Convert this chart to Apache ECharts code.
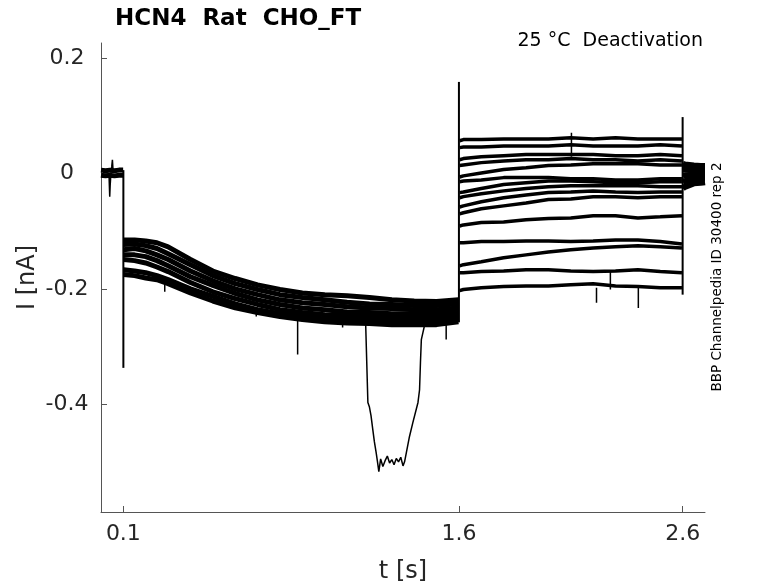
<!DOCTYPE html>
<html><head><meta charset="utf-8">
<script src="https://cdn.jsdelivr.net/npm/echarts@6.0.0/dist/echarts.min.js"></script>
<style>html,body{margin:0;padding:0;background:#fff}#c{width:778px;height:583px}</style>
</head><body><div id="c"></div>
<script>
// ---- tick labels ----
const xTicks = [0.1, 1.6, 2.6];
const yTicks = [-0.4, -0.2, 0, 0.2];

// ---- holding before step (0 - 0.1 s) ----
const tPre = [0, 0.02, 0.04, 0.06, 0.08, 0.099];
const preA = [0.006, 0.005, 0.006, 0.005, 0.006, 0.006];
const preB = [-0.003, -0.004, -0.003, -0.004, -0.003, -0.003];
const tDip = [0.03, 0.036, 0.039, 0.041, 0.044, 0.048, 0.051, 0.054, 0.06];
const vDip = [0.002, -0.004, -0.040, -0.020, -0.002, 0.012, 0.024, 0.004, 0.001];

// ---- activation step (0.1 - 1.6 s) ----
const tAct = [0.101, 0.15, 0.2, 0.25, 0.3, 0.4, 0.5, 0.6, 0.7, 0.8, 0.9, 1.0, 1.1, 1.2, 1.3, 1.4, 1.5, 1.598];
const act1 = [-0.115, -0.115, -0.117, -0.120, -0.127, -0.149, -0.169, -0.182, -0.193, -0.201, -0.207, -0.210, -0.212, -0.215, -0.219, -0.221, -0.222, -0.219];
const act2 = [-0.123, -0.122, -0.125, -0.130, -0.139, -0.158, -0.177, -0.191, -0.201, -0.210, -0.215, -0.219, -0.223, -0.226, -0.227, -0.229, -0.229, -0.226];
const act3 = [-0.132, -0.130, -0.134, -0.141, -0.149, -0.169, -0.186, -0.200, -0.210, -0.219, -0.224, -0.227, -0.231, -0.233, -0.234, -0.236, -0.236, -0.233];
const act4 = [-0.141, -0.141, -0.144, -0.151, -0.160, -0.179, -0.194, -0.208, -0.219, -0.227, -0.233, -0.236, -0.240, -0.241, -0.243, -0.243, -0.243, -0.240];
const act5 = [-0.149, -0.151, -0.155, -0.162, -0.170, -0.189, -0.205, -0.217, -0.227, -0.236, -0.241, -0.245, -0.246, -0.248, -0.250, -0.250, -0.250, -0.246];
const act6 = [-0.167, -0.169, -0.172, -0.177, -0.184, -0.200, -0.213, -0.226, -0.236, -0.243, -0.248, -0.252, -0.253, -0.255, -0.257, -0.257, -0.257, -0.253];
const act7 = [-0.175, -0.177, -0.181, -0.184, -0.191, -0.207, -0.221, -0.233, -0.241, -0.248, -0.253, -0.257, -0.259, -0.260, -0.262, -0.262, -0.262, -0.257];

// ---- one sweep with a large excursion ----
const tExc = [1.1, 1.15, 1.183, 1.193, 1.2, 1.207, 1.215, 1.222, 1.23, 1.236, 1.242, 1.25, 1.26, 1.27, 1.28, 1.29, 1.3, 1.31, 1.32, 1.33, 1.34, 1.35, 1.357, 1.365, 1.379, 1.394, 1.417, 1.424, 1.428, 1.432, 1.439, 1.45, 1.5];
const vExc = [-0.253, -0.255, -0.259, -0.397, -0.405, -0.420, -0.444, -0.465, -0.484, -0.500, -0.517, -0.495, -0.508, -0.498, -0.490, -0.502, -0.496, -0.505, -0.494, -0.500, -0.492, -0.507, -0.500, -0.484, -0.456, -0.432, -0.397, -0.375, -0.328, -0.288, -0.276, -0.257, -0.257];

// ---- deactivation tails (1.6 - 2.6 s) ----
const tTail = [1.603, 1.62, 1.7, 1.8, 1.9, 2.0, 2.1, 2.2, 2.3, 2.4, 2.5, 2.597];
const tail1  = [0.057, 0.059, 0.059, 0.060, 0.060, 0.060, 0.062, 0.060, 0.062, 0.060, 0.060, 0.060];
const tail2  = [0.045, 0.046, 0.046, 0.048, 0.048, 0.048, 0.050, 0.048, 0.048, 0.048, 0.050, 0.048];
const tail3  = [0.024, 0.026, 0.029, 0.031, 0.033, 0.033, 0.033, 0.033, 0.031, 0.031, 0.033, 0.031];
const tail4  = [0.014, 0.015, 0.019, 0.022, 0.024, 0.024, 0.026, 0.024, 0.024, 0.022, 0.024, 0.022];
const tail5  = [-0.006, -0.004, 0.001, 0.007, 0.010, 0.014, 0.015, 0.017, 0.017, 0.017, 0.015, 0.015];
const tail6  = [-0.014, -0.013, -0.011, -0.007, -0.007, -0.007, -0.009, -0.009, -0.011, -0.011, -0.009, -0.009];
const tail7  = [-0.033, -0.032, -0.026, -0.019, -0.016, -0.013, -0.013, -0.014, -0.016, -0.016, -0.014, -0.014];
const tail8  = [-0.042, -0.040, -0.035, -0.030, -0.026, -0.023, -0.021, -0.021, -0.021, -0.021, -0.023, -0.023];
const tail9  = [-0.058, -0.056, -0.049, -0.042, -0.037, -0.033, -0.032, -0.030, -0.032, -0.033, -0.032, -0.032];
const tail10 = [-0.070, -0.068, -0.061, -0.056, -0.051, -0.045, -0.044, -0.040, -0.040, -0.042, -0.040, -0.040];
const tail11 = [-0.091, -0.089, -0.085, -0.084, -0.080, -0.078, -0.077, -0.073, -0.073, -0.077, -0.075, -0.073];
const tail12 = [-0.120, -0.120, -0.118, -0.118, -0.117, -0.117, -0.118, -0.117, -0.115, -0.115, -0.118, -0.122];
const tail13 = [-0.160, -0.158, -0.153, -0.146, -0.141, -0.136, -0.132, -0.129, -0.127, -0.125, -0.127, -0.129];
const tail14 = [-0.172, -0.172, -0.170, -0.169, -0.167, -0.167, -0.169, -0.170, -0.169, -0.167, -0.170, -0.172];
const tail15 = [-0.203, -0.201, -0.198, -0.196, -0.195, -0.195, -0.193, -0.191, -0.195, -0.196, -0.198, -0.198];

// ---- holding after step (2.6 - 2.7 s) ----
const tPost = [2.601, 2.61, 2.63, 2.65, 2.68, 2.7];
const post1 = [0.017, 0.016, 0.015, 0.014, 0.013, 0.013];
const post2 = [0.007, 0.007, 0.006, 0.006, 0.005, 0.005];
const post3 = [-0.004, -0.003, -0.003, -0.002, -0.002, -0.002];
const post4 = [-0.014, -0.013, -0.011, -0.010, -0.009, -0.009];
const post5 = [-0.026, -0.023, -0.020, -0.017, -0.016, -0.015];

// ---- voltage steps / transients (time, from, to) ----
const stepT    = [0.1, 1.6, 2.6];
const stepFrom = [0.006, -0.258, -0.210];
const stepTo   = [-0.337, 0.159, 0.098];
const spikeT    = [0.285, 0.694, 0.879, 1.08, 1.543, 2.103, 2.215, 2.277, 2.402];
const spikeFrom = [-0.190, -0.240, -0.250, -0.255, -0.258, 0.029, -0.198, -0.170, -0.196];
const spikeTo   = [-0.205, -0.248, -0.314, -0.267, -0.288, 0.071, -0.224, -0.201, -0.233];

const acts = [act1, act2, act3, act4, act5, act6, act7];
const tails = [tail1, tail2, tail3, tail4, tail5, tail6, tail7, tail8, tail9, tail10, tail11, tail12, tail13, tail14, tail15];
const posts = [post1, post2, post3, post4, post5];

function line(ts, vs, w) {
  return {
    type: 'line', data: ts.map((t, i) => [t, vs[i]]),
    symbol: 'none', showSymbol: false, silent: true, animation: false,
    lineStyle: { color: '#000', width: w }, itemStyle: { color: '#000' }
  };
}
const series = [];
series.push(line(tPre, preA, 5), line(tPre, preB, 5), line(tDip, vDip, 1.5));
acts.forEach(a => series.push(line(tAct, a, 5)));
series.push(line(tExc, vExc, 1.5));
tails.forEach(a => series.push(line(tTail, a, 3.5)));
posts.forEach(a => series.push(line(tPost, a, 6)));
stepT.forEach((t, i) => series.push(line([t, t], [stepFrom[i], stepTo[i]], 2)));
spikeT.forEach((t, i) => series.push(line([t, t], [spikeFrom[i], spikeTo[i]], 1.5)));

const FONT = 'DejaVu Sans';
const chart = echarts.init(document.getElementById('c'), null, { renderer: 'canvas' });
chart.setOption({
  animation: false,
  backgroundColor: '#fff',
  title: {
    text: 'HCN4  Rat  CHO_FT', left: 115, top: 8, padding: 0,
    textStyle: { fontFamily: FONT, fontWeight: 'bold', fontSize: 23, color: '#000' }
  },
  grid: { left: 101, right: 73, top: 43, bottom: 71, containLabel: false, outerBoundsMode: 'none' },
  xAxis: {
    type: 'value', min: 0, max: 2.7,
    name: 't [s]', nameLocation: 'middle', nameGap: 48, nameMoveOverlap: false,
    nameTextStyle: { fontFamily: FONT, fontSize: 24, color: '#262626' },
    axisLine: { show: true, onZero: false, lineStyle: { color: '#555', width: 1 } },
    axisTick: { show: true, inside: true, length: 6, customValues: xTicks, lineStyle: { color: '#555' } },
    axisLabel: { customValues: xTicks, margin: 11, fontFamily: FONT, fontSize: 22, color: '#262626',
      formatter: v => String(v) },
    splitLine: { show: false }
  },
  yAxis: {
    type: 'value', min: -0.587, max: 0.2265,
    name: 'I [nA]', nameLocation: 'middle', nameGap: 61, nameRotate: 90, nameMoveOverlap: false,
    nameTextStyle: { fontFamily: FONT, fontSize: 24, color: '#262626' },
    axisLine: { show: true, onZero: false, lineStyle: { color: '#555', width: 1 } },
    axisTick: { show: true, inside: true, length: 6, customValues: yTicks, lineStyle: { color: '#555' } },
    axisLabel: { customValues: yTicks, margin: 34, align: 'center', fontFamily: FONT, fontSize: 22, color: '#262626',
      formatter: v => String(Number(v.toFixed(1))) },
    splitLine: { show: false }
  },
  graphic: [
    { type: 'text', x: 703, y: 41, silent: true,
      style: { text: '25 °C  Deactivation', fontFamily: FONT, fontSize: 19, fill: '#000', align: 'right', verticalAlign: 'middle' } },
    { type: 'text', x: 717, y: 277, rotation: Math.PI / 2, silent: true,
      style: { text: 'BBP Channelpedia ID 30400 rep 2', fontFamily: FONT, fontSize: 13.5, fill: '#000', align: 'center', verticalAlign: 'middle' } }
  ],
  series: series
});
</script>
</body></html>
